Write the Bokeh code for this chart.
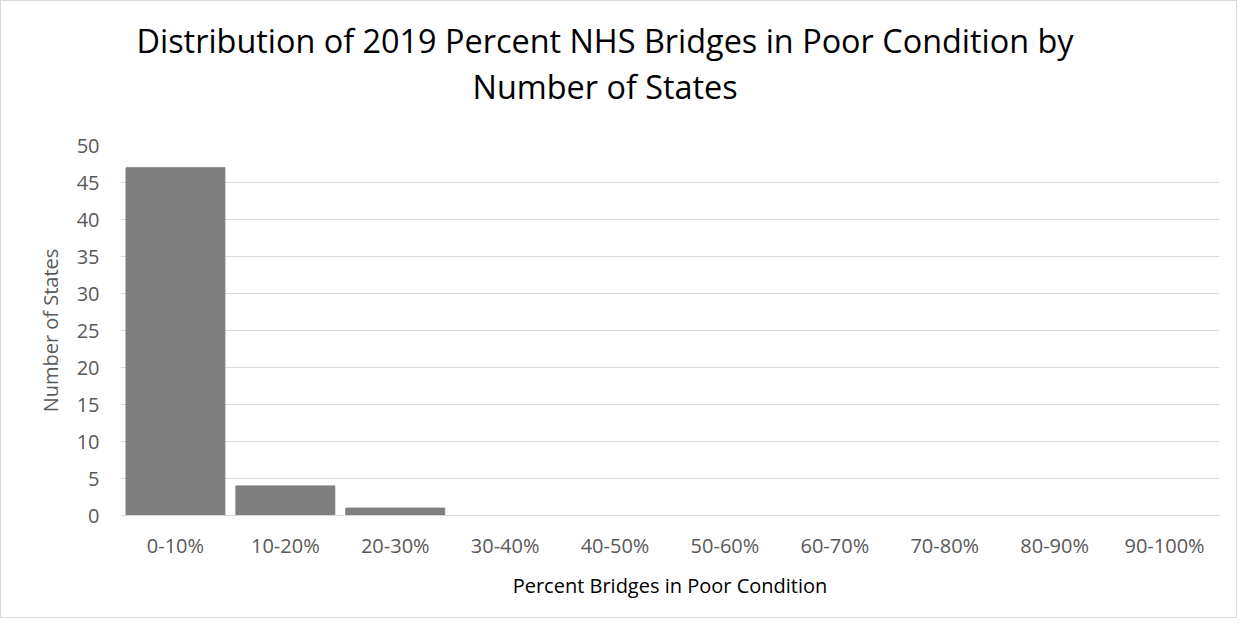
from bokeh.plotting import figure
from bokeh.models import Title, FactorRange, Range1d, SingleIntervalTicker
from bokeh.embed import file_html
from bokeh.resources import INLINE

categories = ["0-10%", "10-20%", "20-30%", "30-40%", "40-50%",
              "50-60%", "60-70%", "70-80%", "80-90%", "90-100%"]
states = [47, 4, 1, 0, 0, 0, 0, 0, 0, 0]

title_line1 = "Distribution of 2019 Percent NHS Bridges in Poor Condition by"
title_line2 = "Number of States"

FONT = "Open Sans"
W, H = 1237, 618

p = figure(x_range=FactorRange(*categories, range_padding=0),
           y_range=Range1d(0, 50),
           width=W, height=H, output_backend="svg", toolbar_location=None,
           min_border_left=119, min_border_top=144,
           min_border_right=W - 1218, min_border_bottom=H - 514)
p.title = None

p.vbar(x=categories, top=states, width=0.9, color="#7f7f7f")

# spacer between frame and title block
spacer = Title(text=" ", text_font_size="2px", standoff=34)
t2 = Title(text=title_line2, align="left", text_font=FONT, text_font_size="32.4px",
           text_font_style="normal", text_color="#000000", offset=352, standoff=0)
t1 = Title(text=title_line1, align="left", text_font=FONT, text_font_size="32.4px",
           text_font_style="normal", text_color="#000000", offset=16, standoff=0)
p.add_layout(spacer, "above")
p.add_layout(t2, "above")
p.add_layout(t1, "above")

p.yaxis.ticker = SingleIntervalTicker(interval=5)
p.yaxis.axis_line_color = None
p.yaxis.major_tick_line_color = None
p.yaxis.minor_tick_line_color = None
p.yaxis.major_label_standoff = 15
p.yaxis.major_label_text_font = FONT
p.yaxis.major_label_text_font_size = "20px"
p.yaxis.major_label_text_color = "#595959"
p.yaxis.axis_label = "Number of States"
p.yaxis.axis_label_standoff = 10
p.yaxis.axis_label_text_font = FONT
p.yaxis.axis_label_text_font_size = "20px"
p.yaxis.axis_label_text_font_style = "normal"
p.yaxis.axis_label_text_color = "#595959"

p.xaxis.axis_line_color = "#d9d9d9"
p.xaxis.major_tick_line_color = None
p.xaxis.minor_tick_line_color = None
p.xaxis.major_label_standoff = 10
p.xaxis.major_label_text_font = FONT
p.xaxis.major_label_text_font_size = "20px"
p.xaxis.major_label_text_color = "#595959"
p.xaxis.axis_label = "Percent Bridges in Poor Condition"
p.xaxis.axis_label_standoff = 10
p.xaxis.axis_label_text_font = FONT
p.xaxis.axis_label_text_font_size = "20px"
p.xaxis.axis_label_text_font_style = "normal"
p.xaxis.axis_label_text_color = "#000000"

p.xgrid.grid_line_color = None
p.ygrid.grid_line_color = "#d9d9d9"
p.outline_line_color = None
p.styles = {"border": "1px solid #d9d9d9"}

open("out.html", "w").write(file_html(p, INLINE))
